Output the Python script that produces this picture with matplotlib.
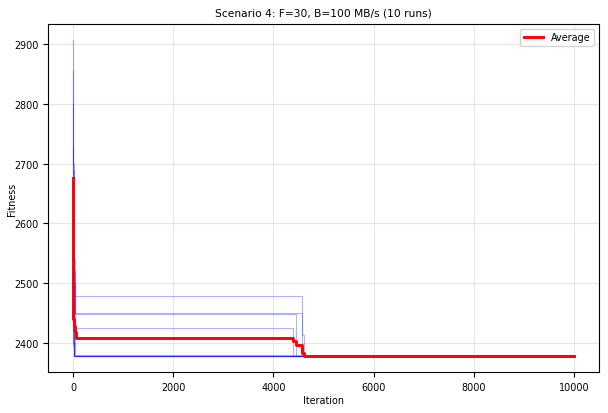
import numpy as np
import matplotlib.pyplot as plt

# runs: step breakpoints (iteration, fitness)
run_iters = [
    [0, 3, 12, 40, 4563, 10000],
    [0, 4, 15, 45, 4563, 4617, 10000],
    [0, 2, 10, 35, 4450, 10000],
    [0, 3, 8, 30, 4400, 10000],
    [0, 2, 6, 25, 10000],
    [0, 3, 9, 30, 10000],
    [0, 2, 7, 20, 10000],
    [0, 4, 10, 28, 10000],
    [0, 3, 8, 22, 10000],
    [0, 2, 5, 18, 10000],
]
run_vals = [
    [2907, 2700, 2540, 2478, 2379, 2379],
    [2855, 2690, 2520, 2451, 2413, 2379, 2379],
    [2800, 2650, 2500, 2448, 2379, 2379],
    [2730, 2600, 2480, 2425, 2379, 2379],
    [2690, 2560, 2450, 2379, 2379],
    [2650, 2540, 2440, 2380, 2380],
    [2600, 2500, 2420, 2379, 2379],
    [2560, 2480, 2410, 2379, 2379],
    [2520, 2460, 2400, 2379, 2379],
    [2448, 2420, 2395, 2378, 2378],
]

avg_iters = [0, 1, 3, 6, 20, 35, 60, 4385, 4450, 4563, 4617, 10000]
avg_vals = [2676, 2560, 2470, 2440, 2428, 2418, 2408, 2403, 2396, 2383, 2379, 2379]

plt.rcParams['font.size'] = 6.9
fig = plt.figure(figsize=(6.08, 4.14), dpi=100)
ax = fig.add_axes([0.079, 0.099, 0.906, 0.841])

for it, v in zip(run_iters, run_vals):
    ax.plot(it, v, color='blue', alpha=0.3, linewidth=0.8, drawstyle='steps-post')

ax.plot(avg_iters, avg_vals, color='red', linewidth=2.1, drawstyle='steps-post', label='Average')

ax.set_title('Scenario 4: F=30, B=100 MB/s (10 runs)', fontsize=7.7, pad=6)
ax.set_xlabel('Iteration', labelpad=2)
ax.set_ylabel('Fitness')
ax.yaxis.set_label_coords(-0.057, 0.5)
ax.grid(True, alpha=0.3)
ax.legend(loc='upper right')
fig.savefig('out.png', dpi=100)
